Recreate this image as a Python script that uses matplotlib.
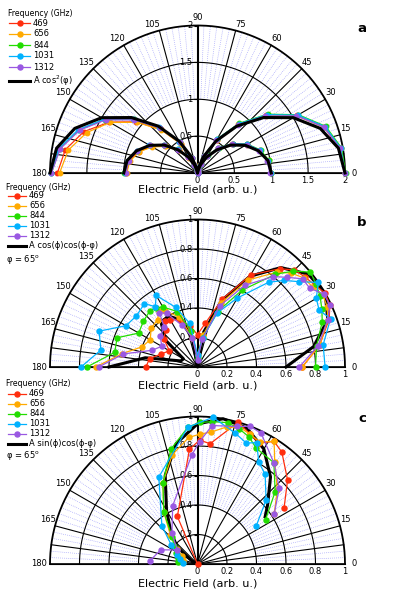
import numpy as np
import matplotlib.pyplot as plt
from matplotlib.lines import Line2D

plt.rcParams['font.family'] = ['DejaVu Sans']

freqs = ['469', '656', '844', '1031', '1312']
colors = ['#ff2e0e', '#ffaa00', '#22dd00', '#00b2ff', '#9a58e2']

# ---------------- panel a (10 degree steps, two amplitudes)
a_angles = [0, 10, 20, 30, 40, 50, 60, 70, 80, 90, 100, 110, 120, 130, 140, 150, 160, 170, 180]
a_big_469 = [2.0, 1.97, 1.83, 1.56, 1.22, 0.87, 0.52, 0.24, 0.06, 0.0, 0.05, 0.21, 0.46, 0.77, 1.08, 1.38, 1.64, 1.82, 1.9]
a_big_656 = [2.0, 1.96, 1.82, 1.55, 1.21, 0.86, 0.52, 0.24, 0.06, 0.0, 0.05, 0.21, 0.46, 0.76, 1.07, 1.37, 1.6, 1.78, 1.87]
a_big_844 = [2.01, 1.98, 1.85, 1.58, 1.24, 0.88, 0.53, 0.25, 0.07, 0.0, 0.06, 0.22, 0.48, 0.8, 1.13, 1.45, 1.71, 1.9, 1.98]
a_big_1031 = [2.0, 1.97, 1.84, 1.57, 1.23, 0.87, 0.53, 0.25, 0.07, 0.0, 0.06, 0.22, 0.49, 0.81, 1.14, 1.46, 1.72, 1.91, 1.99]
a_big_1312 = [2.0, 1.96, 1.82, 1.55, 1.2, 0.85, 0.51, 0.24, 0.06, 0.0, 0.06, 0.22, 0.48, 0.8, 1.12, 1.44, 1.7, 1.89, 1.98]
a_small_469 = [0.99, 0.97, 0.9, 0.78, 0.62, 0.44, 0.27, 0.13, 0.03, 0.0, 0.03, 0.12, 0.25, 0.4, 0.57, 0.72, 0.85, 0.94, 0.97]
a_small_656 = [1.0, 0.98, 0.9, 0.77, 0.61, 0.44, 0.27, 0.13, 0.03, 0.0, 0.03, 0.11, 0.24, 0.4, 0.56, 0.71, 0.84, 0.93, 0.96]
a_small_844 = [1.0, 0.98, 0.91, 0.78, 0.62, 0.45, 0.28, 0.13, 0.04, 0.0, 0.03, 0.12, 0.26, 0.42, 0.59, 0.75, 0.88, 0.96, 0.99]
a_small_1031 = [0.99, 0.97, 0.9, 0.78, 0.62, 0.44, 0.27, 0.13, 0.04, 0.0, 0.03, 0.12, 0.26, 0.42, 0.6, 0.76, 0.88, 0.96, 0.98]
a_small_1312 = [0.98, 0.96, 0.89, 0.77, 0.61, 0.44, 0.27, 0.13, 0.03, 0.0, 0.03, 0.12, 0.25, 0.41, 0.59, 0.75, 0.87, 0.95, 0.97]
a_fit_big = [2.0, 1.94, 1.77, 1.5, 1.17, 0.83, 0.5, 0.23, 0.06, 0.0, 0.06, 0.23, 0.5, 0.83, 1.17, 1.5, 1.77, 1.94, 2.0]
a_fit_small = [1.0, 0.97, 0.88, 0.75, 0.59, 0.41, 0.25, 0.12, 0.03, 0.0, 0.03, 0.12, 0.25, 0.41, 0.59, 0.75, 0.88, 0.97, 1.0]

# ---------------- panel b
b_angles = [0, 10, 20, 25, 30, 35, 40, 45, 50, 60, 70, 80, 90, 100, 110, 120, 125, 130, 140, 150, 160, 170, 180]
b_469 = [0.71, 0.84, 0.95, 0.99, 1.0, 0.97, 0.95, 0.93, 0.87, 0.72, 0.49, 0.3, 0.22, 0.28, 0.34, 0.37, 0.38, 0.33, 0.3, 0.22, 0.26, 0.33, 0.35]
b_656 = [0.71, 0.84, 0.94, 0.97, 0.98, 0.95, 0.94, 0.9, 0.84, 0.68, 0.46, 0.22, 0.08, 0.2, 0.36, 0.44, 0.46, 0.42, 0.41, 0.37, 0.4, 0.52, 0.69]
b_844 = [0.8, 0.82, 0.9, 0.93, 0.96, 0.98, 1.0, 0.92, 0.82, 0.6, 0.4, 0.2, 0.06, 0.25, 0.4, 0.47, 0.49, 0.5, 0.48, 0.46, 0.58, 0.57, 0.75]
b_1031 = [0.865, 0.865, 0.96, 0.91, 0.93, 1.0, 0.9, 0.83, 0.75, 0.54, 0.39, 0.2, 0.08, 0.3, 0.43, 0.56, 0.5, 0.56, 0.54, 0.56, 0.71, 0.665, 0.79]
b_1312 = [0.69, 0.83, 0.94, 0.99, 0.99, 0.93, 0.93, 0.86, 0.8, 0.64, 0.44, 0.19, 0.05, 0.2, 0.3, 0.42, 0.45, 0.35, 0.33, 0.28, 0.33, 0.51, 0.67]
b_fit_angles = [0, 10, 20, 30, 40, 50, 60, 70, 80, 90, 100, 110, 120, 130, 140, 150, 160, 170, 180]
b_fit = [0.6, 0.8, 0.94, 1.0, 0.98, 0.88, 0.71, 0.48, 0.24, 0.0, 0.2, 0.34, 0.4, 0.38, 0.28, 0.11, 0.12, 0.36, 0.6]

# ---------------- panel c
c_469_angles = [33, 43, 53, 58, 63, 68, 74, 84, 89, 94, 113, 180]
c_469 = [0.7, 0.835, 0.95, 0.98, 0.92, 0.95, 1.0, 0.82, 0.84, 0.78, 0.35, 0.0]
c_656_angles = [33, 43, 53, 58, 63, 68, 73, 78, 84, 89, 94, 103, 113, 123, 133, 143, 153, 163, 173]
c_656 = [0.62, 0.74, 0.87, 0.98, 0.93, 0.95, 0.97, 0.95, 0.9, 0.88, 0.86, 0.76, 0.6, 0.42, 0.27, 0.17, 0.12, 0.1, 0.1]
c_844_angles = [33, 43, 53, 63, 68, 73, 78, 84, 89, 94, 103, 113, 123, 133, 143, 153, 163, 173]
c_844 = [0.55, 0.72, 0.86, 0.88, 0.93, 0.96, 0.98, 0.97, 0.96, 0.93, 0.8, 0.6, 0.42, 0.25, 0.2, 0.16, 0.14, 0.13]
c_1031_angles = [33, 43, 53, 59, 64, 68, 74, 84, 94, 114, 133, 144, 155, 165, 175]
c_1031 = [0.475, 0.636, 0.762, 0.806, 0.916, 0.884, 0.924, 1.0, 0.93, 0.645, 0.354, 0.22, 0.15, 0.12, 0.1]
c_1312_angles = [33, 43, 53, 64, 69, 74, 84, 89, 93, 113, 130, 145, 159, 176]
c_1312 = [0.62, 0.758, 0.86, 0.985, 1.0, 0.97, 0.944, 0.83, 0.74, 0.43, 0.27, 0.167, 0.267, 0.323]
c_fit_angles = [35, 40, 50, 60, 70, 80, 90, 100, 110, 120, 130, 140, 150, 160]
c_fit = [0.56, 0.62, 0.77, 0.9, 0.98, 1.0, 0.95, 0.83, 0.64, 0.42, 0.28, 0.18, 0.05, 0.0]

W, H = 395, 595
R = 147.5
fig = plt.figure(figsize=(W / 100, H / 100), dpi=100)


def fx(x):
    return x / W


def fy(y):
    return 1 - y / H


def half_polar(cy, rmax, rticks, rlabels, blue_from):
    # a half wedge is centred in a square box, so use a 2R square around it
    ax = fig.add_axes([fx(197.5 - R), fy(cy + 0.5 * R), 2 * R / W, 2 * R / H], projection='polar')
    ax.set_thetamin(0)
    ax.set_thetamax(180)
    ax.set_ylim(0, rmax)
    ax.set_xticks([])
    ax.set_yticks([])
    ax.grid(False)
    for s in ax.spines.values():
        s.set_visible(False)
    ax.patch.set_facecolor('none')
    kw = dict(clip_on=False, zorder=1)
    black = [7.5, 172.5] + list(range(15, 180, 15))
    for d in np.arange(2.5, 180, 2.5):
        if d in black:
            continue
        t = np.deg2rad(d)
        ax.plot([t, t], [blue_from * rmax, rmax], color='#8e8efa', lw=0.5, ls=(0, (1, 1.8)), **kw)
    for d in black:
        t = np.deg2rad(d)
        ax.plot([t, t], [0, rmax], color='k', lw=0.8 if d != 90 else 1.5, **kw)
    th = np.linspace(0, np.pi, 300)
    for r in rticks[1:]:
        ax.plot(th, np.full(th.size, r), color='k', lw=0.8 if r < rmax else 1.3, **kw)
    ax.plot([0, 0], [0, rmax], color='k', lw=1.2, **kw)
    ax.plot([np.pi, np.pi], [0, rmax], color='k', lw=1.2, **kw)
    # ticks on the vertical axis
    ax.plot([np.pi / 2] * (len(rticks) - 1), rticks[1:], ls='none', marker=0, ms=3, mew=0.8, color='k', **kw)
    for r, lab in zip(rticks[1:], rlabels[1:]):
        ax.annotate(lab, (np.pi / 2, r), xytext=(-5, 0), textcoords='offset pixels',
                    ha='right', va='center', fontsize=6)
    for r, lab in zip(rticks, rlabels):
        ax.annotate(lab, (0, r), xytext=(0, -3), textcoords='offset pixels',
                    ha='center', va='top', fontsize=6)
    # angle labels
    for d in range(0, 181, 15):
        t = np.deg2rad(d)
        if d == 0:
            ha, va, off = 'left', 'center', (7, 0)
        elif d == 180:
            ha, va, off = 'right', 'center', (-3, 0)
        elif d == 90:
            ha, va, off = 'center', 'bottom', (0, 3)
        elif d < 90:
            ha, va, off = 'left', 'bottom', (0, 2)
        else:
            ha, va, off = 'right', 'bottom', (1, 2)
        ax.annotate(str(d), (t, rmax), xytext=off, textcoords='offset pixels',
                    ha=ha, va=va, fontsize=6)
    return ax


def legend(x_title, y_title, ys, fit_label, x_line, x_text, phi_y=None):
    fig.text(fx(x_title), fy(y_title), 'Frequency (GHz)', fontsize=5.6, va='center', ha='left')
    for y, c, f in zip(ys, colors, freqs):
        xm = (x_line[0] + x_line[1]) / 2
        fig.add_artist(Line2D([fx(x_line[0]), fx(xm), fx(x_line[1])], [fy(y)] * 3,
                              transform=fig.transFigure, color=c, lw=0.9,
                              marker='o', ms=3.6, markevery=[1]))
        fig.text(fx(x_text), fy(y), f, fontsize=6, va='center', ha='left')
    yf = ys[-1] + (ys[1] - ys[0]) + (3 if phi_y is None else 0)
    fig.add_artist(Line2D([fx(x_line[0]), fx(x_line[1])], [fy(yf)] * 2,
                          transform=fig.transFigure, color='k', lw=2.2))
    fig.text(fx(x_text), fy(yf), fit_label, fontsize=6, va='center', ha='left')
    if phi_y is not None:
        fig.text(fx(x_title), fy(phi_y), 'φ = 65$^\\mathregular{o}$', fontsize=6, va='center', ha='left')


# ---------------- panel a
ax_a = half_polar(173, 2.0, [0, 0.5, 1, 1.5, 2], ['0', '0.5', '1', '1.5', '2'], 0.5)
ta = np.deg2rad(a_angles)
for big, small, c in zip([a_big_469, a_big_656, a_big_844, a_big_1031, a_big_1312],
                         [a_small_469, a_small_656, a_small_844, a_small_1031, a_small_1312], colors):
    ax_a.plot(ta, big, color=c, lw=0.9, marker='o', ms=3.2, clip_on=False, zorder=3)
    ax_a.plot(ta, small, color=c, lw=0.9, marker='o', ms=3.2, clip_on=False, zorder=3)
ax_a.plot(ta, a_fit_big, color='k', lw=2.2, clip_on=False, zorder=5)
ax_a.plot(ta, a_fit_small, color='k', lw=2.2, clip_on=False, zorder=5)

# ---------------- panel b
bt = [0, 0.2, 0.4, 0.6, 0.8, 1]
bl = ['0', '0.2', '0.4', '0.6', '0.8', '1']
ax_b = half_polar(367, 1.0, bt, bl, 0.4)
ax_b.plot(np.deg2rad(b_fit_angles), b_fit, color='k', lw=2.2, clip_on=False, zorder=2)
for vals, c in zip([b_469, b_656, b_844, b_1031, b_1312], colors):
    ax_b.plot(np.deg2rad(b_angles), vals, color=c, lw=0.9, marker='o', ms=3.6, clip_on=False, zorder=3)

# ---------------- panel c
ax_c = half_polar(564, 1.0, bt, bl, 0.4)
ax_c.plot(np.deg2rad(c_fit_angles), c_fit, color='k', lw=2.2, clip_on=False, zorder=2)
for ang, vals, c in zip([c_469_angles, c_656_angles, c_844_angles, c_1031_angles, c_1312_angles],
                        [c_469, c_656, c_844, c_1031, c_1312], colors):
    ax_c.plot(np.deg2rad(ang), vals, color=c, lw=0.9, marker='o', ms=3.6, clip_on=False, zorder=3)

# ---------------- labels and legends
for y in (190, 385, 583):
    fig.text(fx(197.5), fy(y), 'Electric Field (arb. u.)', fontsize=8, ha='center', va='center')
for lab, y in (('a', 28), ('b', 222), ('c', 418)):
    fig.text(fx(362), fy(y), lab, fontsize=9.5, fontweight='bold', ha='center', va='center')

legend(8, 13, [23, 34, 45, 56, 67], 'A cos$^2$(φ)', (9, 30), 33)
legend(6, 187, [196, 206, 216, 226, 236], 'A cos(ϕ)cos(ϕ-φ)', (8, 26), 29, phi_y=259)
legend(6, 383, [394, 404, 414, 424, 434], 'A sin(ϕ)cos(ϕ-φ)', (8, 26), 29, phi_y=456)

fig.savefig('out.png', dpi=100)
